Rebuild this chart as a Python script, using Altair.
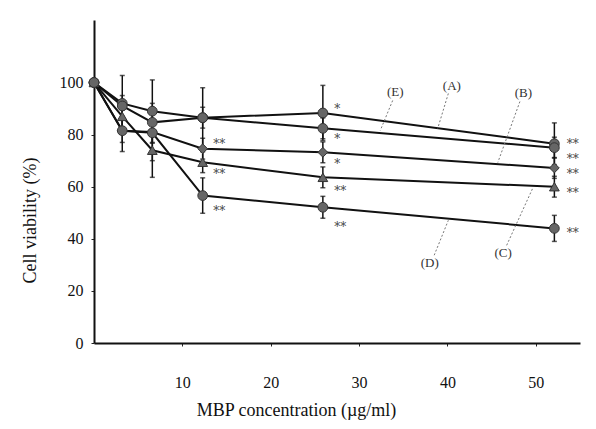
import altair as alt
import pandas as pd

# ---- data ----
conc = [0, 3.2, 6.6, 12.3, 25.9, 52.1]
series = ["A", "E", "B", "C", "D"]
via_A = [100, 92, 89, 86.5, 88.3, 76.5]
via_E = [100, 91, 84.7, 86.5, 82.4, 75.0]
via_B = [100, 81.5, 81.0, 74.6, 73.2, 67.2]
via_C = [100, 87.0, 74.0, 69.4, 63.6, 60.0]
via_D = [100, 81.5, 80.7, 56.6, 52.1, 44.0]
err_A = [0, 10.7, 12.0, 11.5, 10.6, 8.0]
err_E = [0, 4.0, 4.0, 4.0, 4.0, 4.0]
err_B = [0, 4.5, 11.0, 4.0, 4.0, 4.0]
err_C = [0, 4.0, 10.4, 4.0, 4.0, 4.0]
err_D = [0, 8.0, 4.0, 6.8, 4.2, 5.0]

star_x = [13.5, 13.5, 13.5, 27.2, 27.2, 27.2, 27.2, 27.2, 53.5, 53.5, 53.5, 53.5, 53.5]
star_y = [77.8, 66.3, 52.1, 91.2, 79.7, 70.1, 59.8, 46.0, 78.0, 72.2, 66.6, 59.0, 43.7]
star_txt = ["**", "**", "**", "*", "*", "*", "**", "**", "**", "**", "**", "**", "**"]

lab_txt = ["(A)", "(E)", "(B)", "(C)", "(D)"]
lab_x = [40.5, 34.1, 48.6, 46.3, 38.0]
lab_y = [98.8, 96.2, 95.8, 34.5, 30.7]
lead_x1 = [40.1, 33.8, 48.2, 46.7, 38.5]
lead_y1 = [95.8, 93.1, 92.7, 37.5, 33.7]
lead_x2 = [38.9, 32.4, 45.7, 49.7, 40.1]
lead_y2 = [82.4, 81.6, 69.3, 59.8, 47.1]

x_ticks = [10, 20, 30, 40, 50]
y_ticks = [0, 20, 40, 60, 80, 100]

vals = {"A": via_A, "E": via_E, "B": via_B, "C": via_C, "D": via_D}
errs = {"A": err_A, "E": err_E, "B": err_B, "C": err_C, "D": err_D}
rows = []
for s in series:
    for c, v, e in zip(conc, vals[s], errs[s]):
        rows.append({"series": s, "conc": c, "v": v, "lo": v - e, "hi": v + e})
df = pd.DataFrame(rows)
df_err = df[df["hi"] > df["lo"]]

stars = pd.DataFrame({"x": star_x, "y": star_y, "t": star_txt})
labs = pd.DataFrame({"x": lab_x, "y": lab_y, "t": lab_txt,
                     "x1": lead_x1, "y1": lead_y1, "x2": lead_x2, "y2": lead_y2})

FONT = "Liberation Serif"
xscale = alt.Scale(domain=[0, 55], nice=False, zero=False)
yscale = alt.Scale(domain=[0, 124], nice=False)

xax = alt.Axis(values=x_ticks, title="MBP concentration (µg/ml)", grid=False,
               tickSize=3, tickColor="#222", labelPadding=28,
               titleX=202, titleY=67, titleBaseline="middle", titleAlign="center")
yax = alt.Axis(values=y_ticks, title="Cell viability (%)", grid=False,
               tickSize=3, tickColor="#222", labelPadding=8,
               titleX=-64, titleY=200, titleBaseline="middle", titleAlign="center", titleAngle=-90)

base = alt.Chart(df)

lines = base.mark_line(color="#111", strokeWidth=2).encode(
    x=alt.X("conc:Q", scale=xscale, axis=xax),
    y=alt.Y("v:Q", scale=yscale, axis=yax),
    detail="series:N",
)

ebars = alt.Chart(df_err).mark_errorbar(ticks=True, color="#111", thickness=1.5).encode(
    x=alt.X("conc:Q", scale=xscale),
    y=alt.Y("lo:Q", scale=yscale, title=""),
    y2="hi:Q",
)

pts = base.mark_point(filled=True, color="#666", size=95, opacity=1,
                      stroke="#333", strokeWidth=1).encode(
    x=alt.X("conc:Q", scale=xscale),
    y=alt.Y("v:Q", scale=yscale),
    shape=alt.Shape("series:N", legend=None,
                    scale=alt.Scale(domain=series,
                                    range=["circle", "circle", "diamond", "triangle-up", "circle"])),
)

star_layer = alt.Chart(stars).mark_text(font="DejaVu Serif", fontSize=12, color="#444",
                                        align="left", baseline="middle", dy=4).encode(
    x=alt.X("x:Q", scale=xscale), y=alt.Y("y:Q", scale=yscale), text="t:N")

leaders = alt.Chart(labs).mark_rule(color="#777", strokeWidth=1, strokeDash=[2, 2]).encode(
    x=alt.X("x1:Q", scale=xscale), y=alt.Y("y1:Q", scale=yscale), x2="x2:Q", y2="y2:Q")

lab_layer = alt.Chart(labs).mark_text(font=FONT, fontSize=13, color="#333",
                                      align="center", baseline="middle").encode(
    x=alt.X("x:Q", scale=xscale), y=alt.Y("y:Q", scale=yscale), text="t:N")

chart = alt.layer(ebars, lines, pts, star_layer, leaders, lab_layer).properties(
    width=486, height=323,
    background="white",
    autosize=alt.AutoSizeParams(type="none"),
    padding={"left": 94, "top": 20, "right": 16, "bottom": 86},
).configure_view(stroke=None).configure_axis(
    domainColor="#111", domainWidth=2,
    labelFont=FONT, labelFontSize=16, labelColor="#111",
    titleFont=FONT, titleFontSize=18, titleFontWeight="normal", titleColor="#111",
)

chart.save("out.html", embed_options={"renderer": "svg", "actions": False})
